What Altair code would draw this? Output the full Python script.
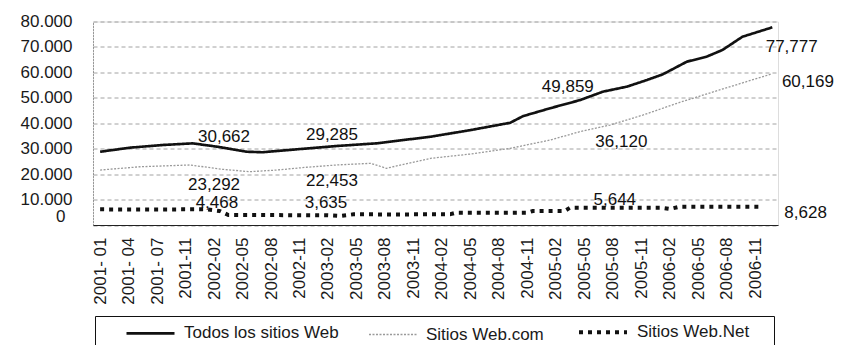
import altair as alt
import pandas as pd

# scale order (all channels share it); legend order given separately
scale_order = ["Sitios Web.com", "Todos los sitios Web", "Sitios Web.Net"]
legend_order = ["Todos los sitios Web", "Sitios Web.com", "Sitios Web.Net"]
order_colors = ["#9a9a9a", "#111111", "#111111"]
order_dash = [[2, 1.5], [1, 0], [4, 5]]
width_range = [1.3, 4]

tick_labels = ["2001- 01", "2001- 04", "2001- 07", "2001-11", "2002-02", "2002-05",
               "2002-08", "2002-11", "2003-02", "2003-05", "2003-08", "2003-11",
               "2004-02", "2004-05", "2004-08", "2004-11", "2005-02", "2005-05",
               "2005-08", "2005-11", "2006-02", "2006-05", "2006-08", "2006-11"]

todos_pos = [0, 1.05, 2.2, 3.25, 4.1, 5.15, 5.7, 6.9, 8.3, 9.7, 11.6, 13, 14.4, 14.85,
             15.8, 16.85, 17.65, 18.5, 19.2, 19.75, 20.6, 21.3, 21.85, 22.55, 23.6]
todos_val = [28800, 30400, 31450, 32100, 30800, 28800, 28600, 29750, 31050, 32100, 34700,
             37300, 40200, 42800, 45900, 49100, 52400, 54400, 57000, 59200, 64200, 66200,
             68800, 74000, 77700]

com_pos = [0, 1.4, 3.15, 4.3, 5.25, 6.2, 7.25, 8.3, 9.5, 10.05, 11.6, 13, 14.4, 15.8,
           16.85, 17.9, 19.05, 20.35, 21.75, 23.55]
com_val = [21600, 22900, 23600, 21900, 20950, 21600, 22700, 23600, 24250, 22300, 26200,
           27900, 30150, 33400, 36700, 39300, 43200, 48200, 53100, 59300]

net_pos = [0, 2, 3.7, 4.2, 4.5, 6, 8, 8.4, 8.9, 10.5, 12.3, 12.5, 14, 15, 15.2, 16.3,
           16.5, 18, 19.7, 20, 20.35, 22, 23.15]
net_val = [6150, 6100, 6200, 5500, 3950, 3900, 3800, 3550, 4200, 4150, 4250, 4850, 4800,
           4850, 5500, 5500, 6800, 6750, 6800, 6300, 7200, 7200, 7150]

lab_text = ["30,662", "29,285", "23,292", "22,453", "4,468", "3,635", "49,859", "36,120",
            "5,644", "77,777", "60,169", "8,628"]
lab_pos = [4.35, 8.14, 4.0, 8.14, 4.1, 7.93, 16.42, 18.3, 18.07, 24.28, 24.85, 24.77]
lab_val = [32630, 33410, 13760, 15330, 6680, 6680, 52280, 30660, 7860, 68000, 54250, 2750]

rows = []
for name, ps, vs in zip(legend_order, [todos_pos, com_pos, net_pos], [todos_val, com_val, net_val]):
    for p, v in zip(ps, vs):
        rows.append({"serie": name, "pos": p, "valor": v})
df = pd.DataFrame(rows)
labels_df = pd.DataFrame({"pos": lab_pos, "valor": lab_val, "texto": lab_text})

FONT = "Liberation Sans"
x_scale = alt.Scale(domain=[-0.25, 23.8], nice=False, zero=False)
y_scale = alt.Scale(domain=[0, 80000], nice=False)

tick_expr = "[" + ",".join("'%s'" % t for t in tick_labels) + "][datum.value]"

x_axis = alt.Axis(values=list(range(len(tick_labels))), labelExpr=tick_expr, labelAngle=270,
                  labelPadding=12, labelFontSize=17, labelFont=FONT, labelColor="#1a1a1a",
                  ticks=False, grid=False, domainColor="#222222", domainWidth=1.2,
                  labelOverlap=False, labelFlush=False, title=None)
y_axis = alt.Axis(values=list(range(0, 80001, 10000)),
                  labelExpr="datum.value == 0 ? '0' : replace(format(datum.value, ','), ',', '.')",
                  labelPadding={"condition": {"test": "datum.value == 0", "value": 28}, "value": 21},
                  labelOffset={"condition": {"test": "datum.value == 0", "value": -9}, "value": 0},
                  labelFontSize=17, labelFont=FONT, labelColor="#1a1a1a",
                  labelOverlap=False, ticks=False, grid=True, gridColor="#8a8a8a",
                  gridDash=[4, 3], gridWidth=0.8,
                  domainColor="#555555", domainDash=[1, 2], title=None)

legend = alt.Legend(orient="none", legendX=2, legendY=294.5, direction="horizontal",
                    values=legend_order,
                    title=" ", titleOrient="right", titlePadding=23, titleFontSize=17,
                    strokeColor="#111111", fillColor="white", padding=2,
                    symbolType="M-4.5,0M-2,0H2M0,1.7", symbolSize=576,
                    symbolOffset=40, labelOffset=20, columnPadding=-3,
                    labelFontSize=17, labelFont=FONT, labelColor="#1a1a1a", labelLimit=300)

lines = alt.Chart(df).mark_line(strokeJoin="round").encode(
    x=alt.X("pos:Q", scale=x_scale, axis=x_axis),
    y=alt.Y("valor:Q", scale=y_scale, axis=y_axis),
    color=alt.Color("serie:N", scale=alt.Scale(domain=scale_order, range=order_colors), legend=legend),
    strokeDash=alt.StrokeDash("serie:N", scale=alt.Scale(domain=scale_order, range=order_dash), legend=legend),
    strokeWidth=alt.StrokeWidth("serie:N", scale=alt.Scale(domain=scale_order, range=width_range), legend=legend),
    detail="serie:N",
)

texts = alt.Chart(labels_df).mark_text(align="center", baseline="alphabetic", fontSize=17,
                                        font=FONT, color="#111111").encode(
    x=alt.X("pos:Q", scale=x_scale, axis=x_axis),
    y=alt.Y("valor:Q", scale=y_scale, axis=y_axis),
    text="texto:N",
)

chart = alt.layer(lines, texts).properties(
    width=685, height=203.5,
    autosize=alt.AutoSizeParams(type="none"),
    padding={"left": 85, "top": 13.5, "right": 58, "bottom": 120},
).configure_view(stroke=None).configure(background="white")

chart.save("out.html", embed_options={"renderer": "svg", "actions": False})
